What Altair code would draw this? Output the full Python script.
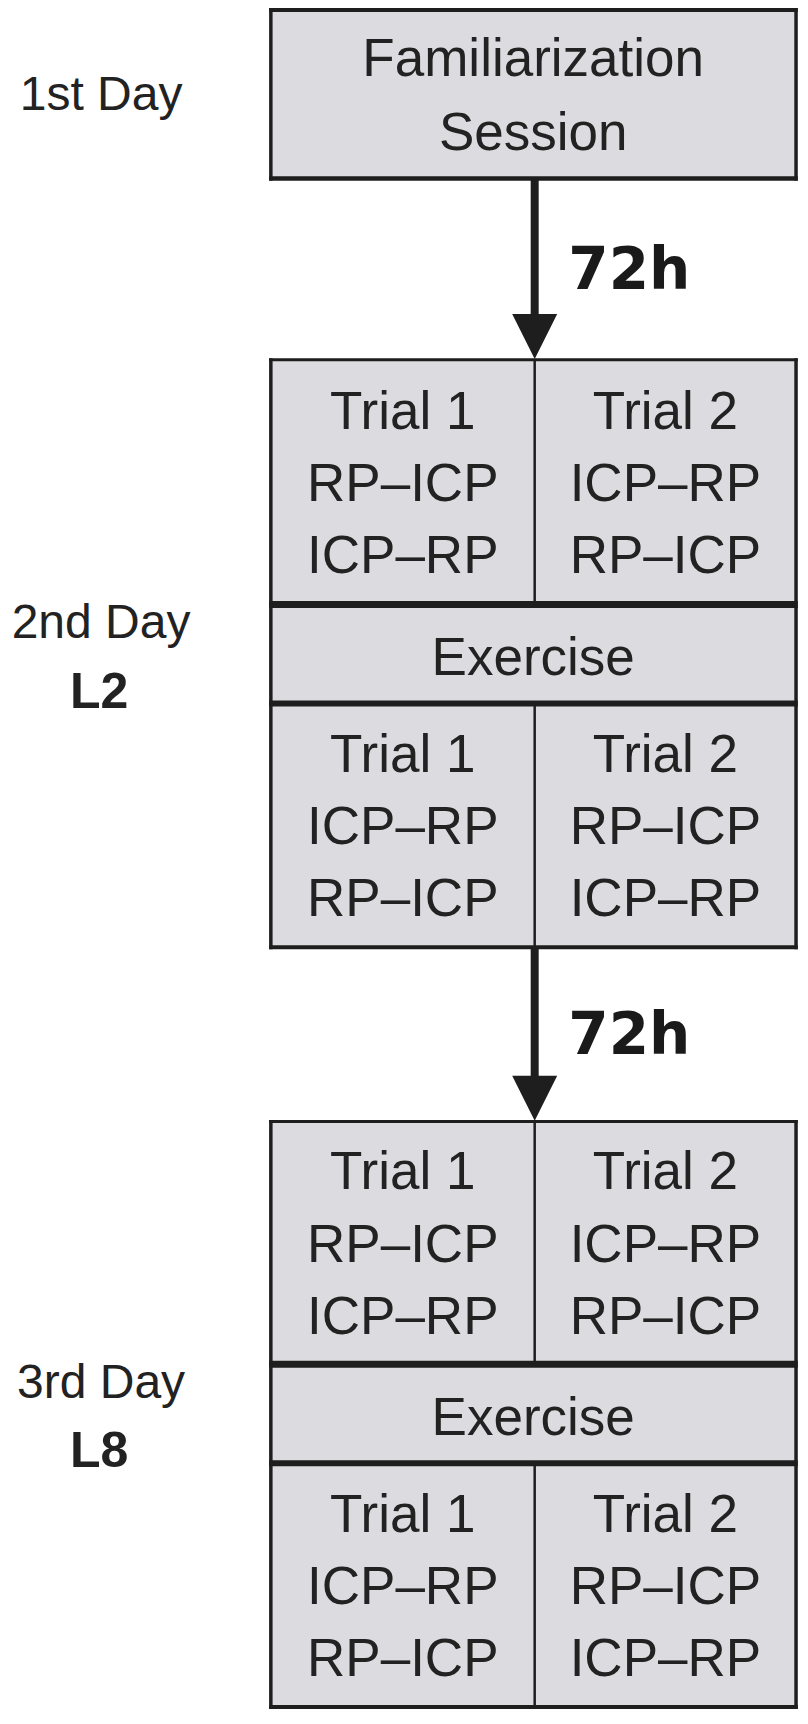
import altair as alt
import pandas as pd

# ---------------- content ----------------
day_labels = ["1st Day", "2nd Day", "3rd Day"]
day_codes = ["", "L2", "L8"]
interval_labels = ["72h", "72h"]
session_lines = ["Familiarization", "Session"]
trial_names = ["Trial 1", "Trial 2"]
exercise_label = "Exercise"
# condition order inside each trial, one entry per trial row (pre / post exercise, day 2 then day 3)
trial1_orders = [["RP–ICP", "ICP–RP"], ["ICP–RP", "RP–ICP"], ["RP–ICP", "ICP–RP"], ["ICP–RP", "RP–ICP"]]
trial2_orders = [["ICP–RP", "RP–ICP"], ["RP–ICP", "ICP–RP"], ["ICP–RP", "RP–ICP"], ["RP–ICP", "ICP–RP"]]

# ---------------- layout (reference pixels) ----------------
X_L, X_R, X_M = 273.5, 804.0, 540.0
FAM = (7.0, 177.0)
TRIAL_ROWS = [(360.0, 607.0), (707.0, 953.0), (1129.0, 1374.0), (1474.0, 1720.0)]
EXERCISE = [(607.0, 707.0), (1374.0, 1474.0)]
ARROWS = [(177.0, 360.0), (953.0, 1129.0)]
LINE_GAP = 73.0
FS = 53
LABEL_FS = 48
LABEL_X = 102.0
FILL = "#dcdce0"
INK = "#1e1e1e"
TXT = "#222222"
SANS = "Liberation Sans, Arial, Helvetica, sans-serif"


def base(cap_center, fs=FS, cap=0.716):
    return cap_center + cap * fs / 2.0


# fills
fills = [dict(x1=X_L, x2=X_R, y1=FAM[0], y2=FAM[1])]
for t, b in TRIAL_ROWS + EXERCISE:
    fills.append(dict(x1=X_L, x2=X_R, y1=t, y2=b))
fills_df = pd.DataFrame(fills)

# lines
lines = []
def hline(y, w, x1=X_L - 1.75, x2=X_R + 1.75):
    lines.append(dict(x1=x1, x2=x2, y1=y, y2=y, w=w))
def vline(x, y1, y2, w):
    lines.append(dict(x1=x, x2=x, y1=y1, y2=y2, w=w))

hline(FAM[0], 4)
hline(FAM[1], 4.5)
vline(X_L, FAM[0] - 2, FAM[1] + 2.2, 3.5)
vline(X_R, FAM[0] - 2, FAM[1] + 2.2, 3.5)
for d in range(2):
    r1, r2 = TRIAL_ROWS[2 * d], TRIAL_ROWS[2 * d + 1]
    hline(r1[0], 3)
    hline(r1[1], 7)
    hline(r2[0], 6)
    hline(r2[1], 4)
    vline(X_L, r1[0] - 1.5, r2[1] + 2, 3.5)
    vline(X_R, r1[0] - 1.5, r2[1] + 2, 3.5)
    vline(X_M, r1[0], r1[1], 2.5)
    vline(X_M, r2[0], r2[1], 2.5)
for a, b in ARROWS:
    vline(X_M, a, b - 40, 8)
lines_df = pd.DataFrame(lines)

heads_df = pd.DataFrame([dict(x=X_M, y=b - 23.5) for a, b in ARROWS])

# texts
normal = []
fc = (FAM[0] + FAM[1]) / 2.0
for k, s in enumerate(session_lines):
    normal.append(dict(x=538.5, y=base(fc - 37 + 74 * k), t=s))
for i, (t, b) in enumerate(TRIAL_ROWS):
    c = (t + b) / 2.0
    left = [trial_names[0]] + trial1_orders[i]
    right = [trial_names[1]] + trial2_orders[i]
    for k in range(3):
        yy = base(c + (k - 1) * LINE_GAP)
        normal.append(dict(x=(X_L + X_M) / 2.0, y=yy, t=left[k]))
        normal.append(dict(x=(X_M + X_R) / 2.0, y=yy, t=right[k]))
for t, b in EXERCISE:
    normal.append(dict(x=538.5, y=base((t + b) / 2.0 + 2), t=exercise_label))
normal_df = pd.DataFrame(normal)

labels = [dict(x=LABEL_X, y=base(fc - 1, LABEL_FS), t=day_labels[0])]
bold = []
for d, (t, b) in enumerate(EXERCISE):
    c = (t + b) / 2.0 + 2
    labels.append(dict(x=LABEL_X, y=base(c - 35, LABEL_FS), t=day_labels[d + 1]))
    bold.append(dict(x=LABEL_X - 2, y=base(c + 35, LABEL_FS), t=day_codes[d + 1]))
labels_df = pd.DataFrame(labels)
bold_df = pd.DataFrame(bold)

hours_df = pd.DataFrame([dict(x=574.0, y=base((a + b) / 2.0 - 1, 58, 0.729), t=interval_labels[i])
                         for i, (a, b) in enumerate(ARROWS)])

# ---------------- chart ----------------
W, H = 792, 1702
xs = alt.Scale(domain=[8, 808], nice=False, zero=False)
ys = alt.Scale(domain=[5, 1723], nice=False, zero=False, reverse=True)
X = lambda f: alt.X(f, type="quantitative", scale=xs, axis=None)
Y = lambda f: alt.Y(f, type="quantitative", scale=ys, axis=None)

fill_layer = alt.Chart(fills_df).mark_rect(fill=FILL, strokeWidth=0).encode(
    x=X("x1"), x2="x2", y=Y("y1"), y2="y2")

line_layer = alt.Chart(lines_df).mark_rule(color=INK).encode(
    x=X("x1"), x2="x2", y=Y("y1"), y2="y2",
    strokeWidth=alt.StrokeWidth("w:Q", scale=None))

head_layer = alt.Chart(heads_df).mark_point(
    shape="M-1,-1L1,-1L0,1Z", size=2025, filled=True, fill=INK, strokeWidth=0, opacity=1
).encode(x=X("x"), y=Y("y"))

text_layer = alt.Chart(normal_df).mark_text(
    font=SANS, fontSize=FS, color=TXT, align="center", baseline="alphabetic"
).encode(x=X("x"), y=Y("y"), text="t:N")

label_layer = alt.Chart(labels_df).mark_text(
    font=SANS, fontSize=LABEL_FS, color=TXT, align="center", baseline="alphabetic"
).encode(x=X("x"), y=Y("y"), text="t:N")

bold_layer = alt.Chart(bold_df).mark_text(
    font=SANS, fontSize=LABEL_FS + 2, fontWeight="bold", color=TXT, align="center", baseline="alphabetic"
).encode(x=X("x"), y=Y("y"), text="t:N")

hours_layer = alt.Chart(hours_df).mark_text(
    font="DejaVu Sans", fontSize=58, fontWeight="bold", color="#1a1a1a", align="left", baseline="alphabetic"
).encode(x=X("x"), y=Y("y"), text="t:N")

chart = alt.layer(fill_layer, line_layer, head_layer, text_layer, label_layer, bold_layer, hours_layer).properties(
    width=W, height=H, padding=0, background="white", autosize=alt.AutoSizeParams(type="none")
).configure_view(stroke="transparent", strokeWidth=0)

chart.save("out.html", embed_options={"renderer": "svg", "actions": False})
